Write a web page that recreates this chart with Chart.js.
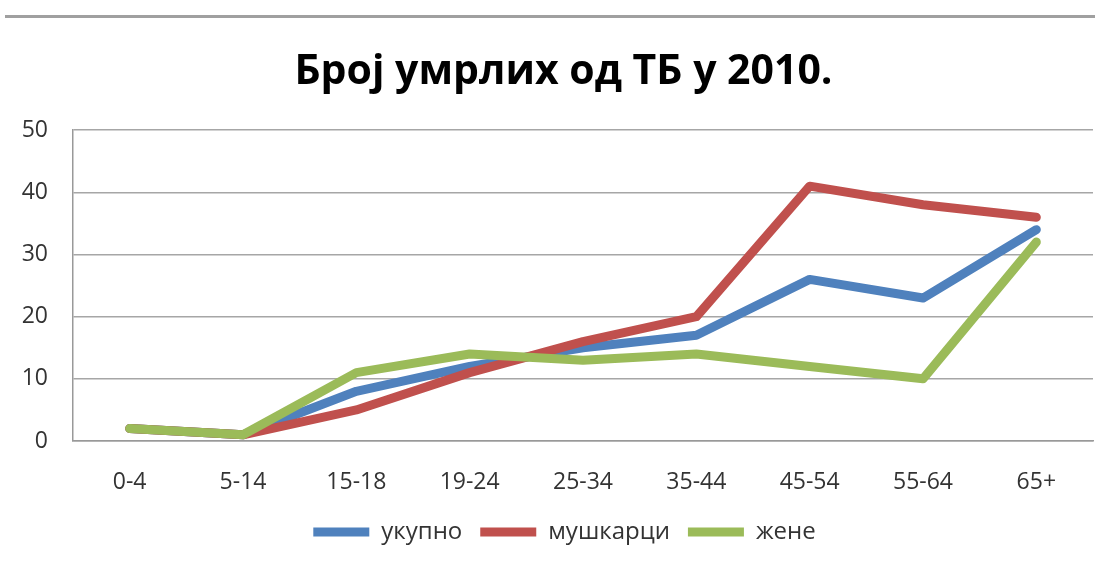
<!DOCTYPE html>
<html>
<head>
<meta charset="utf-8">
<script src="https://cdn.jsdelivr.net/npm/chart.js@4.4.0/dist/chart.umd.min.js"></script>
<style>
  html, body { margin: 0; padding: 0; background: #fff; }
  #wrap { position: relative; width: 1095px; height: 563px; }
  #rule { position: absolute; top: 15px; left: 5px; right: 0; height: 3px; background: #a0a0a0; }
  canvas { position: absolute; top: 0; left: 0; }
</style>
</head>
<body>
<div id="wrap">
  <div id="rule"></div>
  <canvas id="chart" width="1095" height="563"></canvas>
</div>
<script>
// age groups
const categories = ["0-4", "5-14", "15-18", "19-24", "25-34", "35-44", "45-54", "55-64", "65+"];
const seriesNames = ["укупно", "мушкарци", "жене"];
const ukupno = [2, 1, 8, 12, 15, 17, 26, 23, 34];
const muskarci = [2, 1, 5, 11, 16, 20, 41, 38, 36];
const zene = [2, 1, 11, 14, 13, 14, 12, 10, 32];
const yTicks = [0, 10, 20, 30, 40, 50];

const colors = ["#4F81BD", "#C0504D", "#9BBB59"];
const FONT = "'Open Sans', 'DejaVu Sans', sans-serif";

const mkSet = (label, data, i) => ({
  label,
  data,
  borderColor: colors[i],
  backgroundColor: colors[i],
  borderWidth: 9,
  borderCapStyle: "round",
  borderJoinStyle: "round",
  pointRadius: 0,
  pointHoverRadius: 0,
  tension: 0,
  fill: false,
  order: 2 - i, // later series drawn on top
});

// title and legend sit a little right of the canvas centre in the original
const nudge = {
  id: "nudge",
  afterLayout(chart) {
    const t = chart.titleBlock;
    if (t) { t.left += 17; t.right += 17; }
    const l = chart.legend;
    if (l) { l.left += 18; l.right += 18; }
  },
};

new Chart(document.getElementById("chart"), {
  type: "line",
  data: {
    labels: categories,
    datasets: [
      mkSet(seriesNames[0], ukupno, 0),
      mkSet(seriesNames[1], muskarci, 1),
      mkSet(seriesNames[2], zene, 2),
    ],
  },
  plugins: [nudge],
  options: {
    responsive: false,
    animation: false,
    layout: { padding: { left: 0, right: 2, top: 0, bottom: 9 } },
    plugins: {
      title: {
        display: true,
        text: "Број умрлих од ТБ у 2010.",
        color: "#000",
        font: { family: FONT, size: 41, weight: "bold" },
        padding: { top: 48, bottom: 33 },
      },
      legend: {
        position: "bottom",
        labels: {
          usePointStyle: true,
          pointStyle: "line",
          pointStyleWidth: 56,
          boxHeight: 9,
          padding: 18,
          color: "#333",
          font: { family: FONT, size: 24 },
          sort: (a, b) => a.datasetIndex - b.datasetIndex,
        },
      },
      tooltip: { enabled: false },
    },
    scales: {
      x: {
        offset: true,
        grid: { display: false, drawTicks: false },
        border: { display: true, color: "#999", width: 1.5 },
        ticks: {
          color: "#333",
          padding: 28,
          maxRotation: 0,
          font: { family: FONT, size: 23 },
        },
        afterFit: (scale) => { scale.height = 61; },
      },
      y: {
        min: 0,
        max: 50,
        afterBuildTicks: (scale) => { scale.ticks = yTicks.map((v) => ({ value: v })); },
        grid: { color: "#a6a6a6", lineWidth: 1.5, drawTicks: false },
        border: { display: true, color: "#999", width: 1.5 },
        ticks: {
          color: "#333",
          padding: 25,
          font: { family: FONT, size: 23 },
        },
        afterFit: (scale) => { scale.width = 73; },
      },
    },
  },
});
</script>
</body>
</html>
